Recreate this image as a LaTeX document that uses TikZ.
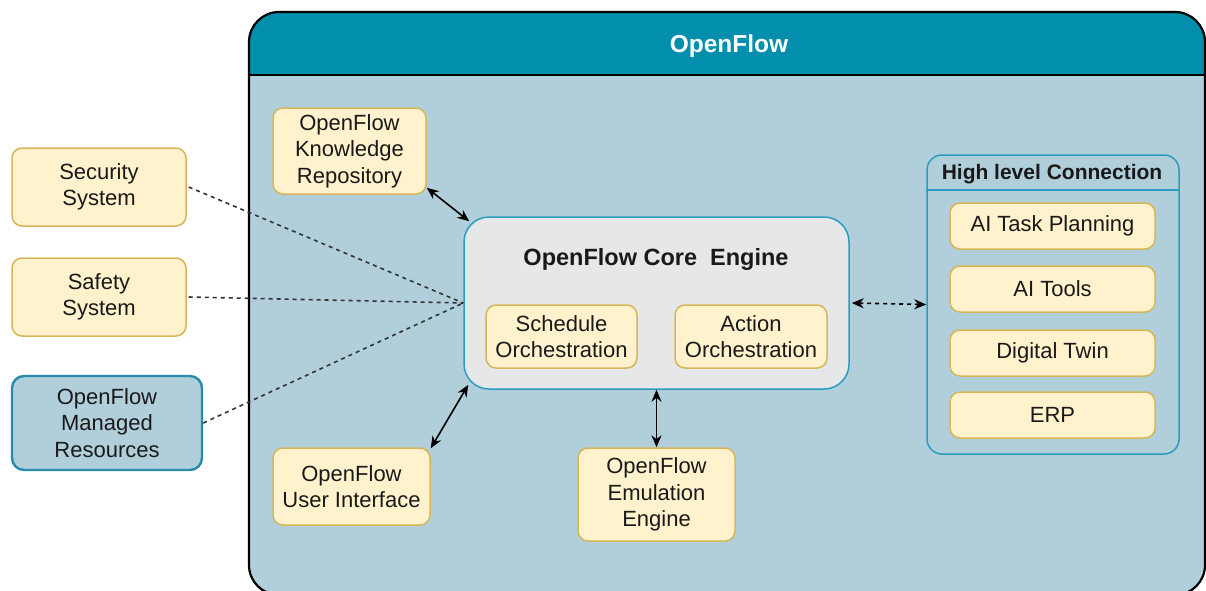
\documentclass[tikz,border=0pt]{standalone}
\usepackage{fontspec}
\setmainfont{Liberation Sans}
\usetikzlibrary{arrows.meta}
\definecolor{hdr}{HTML}{028EAD}
\definecolor{body}{HTML}{B1CFDB}
\definecolor{yfill}{HTML}{FFF2CC}
\definecolor{ydraw}{HTML}{D6B656}
\definecolor{teal}{HTML}{2A9CBD}
\definecolor{coref}{HTML}{E6E7E9}
\definecolor{dashc}{HTML}{333333}
\tikzset{
  txt/.style={font=\fontsize{22}{26.5}\selectfont, align=center, text=black!90},
  ybox/.style={txt, draw=ydraw, fill=yfill, line width=1.5pt, rounded corners=10pt, inner sep=0pt},
  tealbox/.style={txt, draw=teal, line width=1.5pt, inner sep=0pt},
  dline/.style={draw=dashc, line width=1.6pt, dash pattern=on 4pt off 4pt},
  biarrow/.style={line width=1.6pt, {Stealth[length=12pt,width=10pt]}-{Stealth[length=12pt,width=10pt]}},
}
\begin{document}
\begin{tikzpicture}[x=1pt,y=-1pt]
\useasboundingbox (0,0) rectangle (1206,590);
\begin{scope}
\clip (0,0) rectangle (1206,590);
% outer frame
\fill[body, rounded corners=30pt] (249,12) rectangle (1205,595);
\fill[hdr, rounded corners=30pt] (249,75) -- (249,12) -- (1205,12) -- (1205,75) -- cycle;
\fill[hdr] (249,50) rectangle (1205,75);
\draw[black, line width=2.2pt] (249,75) -- (1205,75);
\draw[black, line width=2.2pt, rounded corners=30pt] (249,12) rectangle (1205,595);
\end{scope}
\node[font=\bfseries\fontsize{24.5}{28}\selectfont, text=white] (title) at (729,46) {OpenFlow};

% outside boxes
\node[ybox, minimum width=174, minimum height=78] (sec) at (99,187) {Security\\System};
\node[ybox, minimum width=174, minimum height=78] (saf) at (99,297) {Safety\\System};
\node[tealbox, draw=teal!90!black, fill=body, line width=2.4pt, rounded corners=12pt, minimum width=190, minimum height=94] (mr) at (107,423) {OpenFlow\\Managed\\Resources};

% inner boxes
\node[ybox, minimum width=153, minimum height=86] (kr) at (349.5,151) {OpenFlow\\Knowledge\\Repository};
\node[tealbox, fill=coref, rounded corners=25pt, minimum width=385, minimum height=172] (core) at (656.5,303) {};
\node[font=\bfseries\fontsize{23.5}{28}\selectfont, text=black!90] (coret) at (656,259) {OpenFlow Core\ \ Engine};
\node[ybox, minimum width=151, minimum height=63] (so) at (561.5,336.5) {Schedule\\Orchestration};
\node[ybox, minimum width=152, minimum height=63] (ao) at (751,336.5) {Action\\Orchestration};
\node[ybox, minimum width=157, minimum height=77] (ui) at (351.5,486.5) {OpenFlow\\User Interface};
\node[ybox, minimum width=157, minimum height=93] (ee) at (656.5,494.5) {OpenFlow\\Emulation\\Engine};

% high level connection
\node[tealbox, fill=body, rounded corners=15pt, minimum width=252, minimum height=299] (hl) at (1053,304.5) {};
\draw[teal, line width=1.5pt] (hl.west |- 0,190) -- (hl.east |- 0,190);
\node[font=\bfseries\fontsize{21}{24}\selectfont, text=black!90] (hlt) at (1052,174) {High level Connection};
\node[ybox, minimum width=205, minimum height=46] (ai1) at (1052.5,226) {AI Task Planning};
\node[ybox, minimum width=205, minimum height=46] (ai2) at (1052.5,289) {AI Tools};
\node[ybox, minimum width=205, minimum height=46] (dt) at (1052.5,353) {Digital Twin};
\node[ybox, minimum width=205, minimum height=46] (erp) at (1052.5,415) {ERP};

% connectors
\coordinate (cl) at (core.west);
\draw[dline] ([xshift=2pt]sec.east) -- (cl);
\draw[dline] ([xshift=2pt]saf.east) -- (cl);
\draw[dline] (mr.east) -- (cl);
\draw[biarrow] ([yshift=7pt]kr.south east) -- ([shift={(6,5)}]core.north west);
\draw[biarrow] ([yshift=-1pt]ui.north east) -- ([shift={(5,-5)}]core.south west);
\draw[biarrow] (ee.north) -- (core.south);
\draw[biarrow, dash pattern=on 4pt off 4pt] ([xshift=2pt]core.east) -- (hl.west);
\end{tikzpicture}
\end{document}
